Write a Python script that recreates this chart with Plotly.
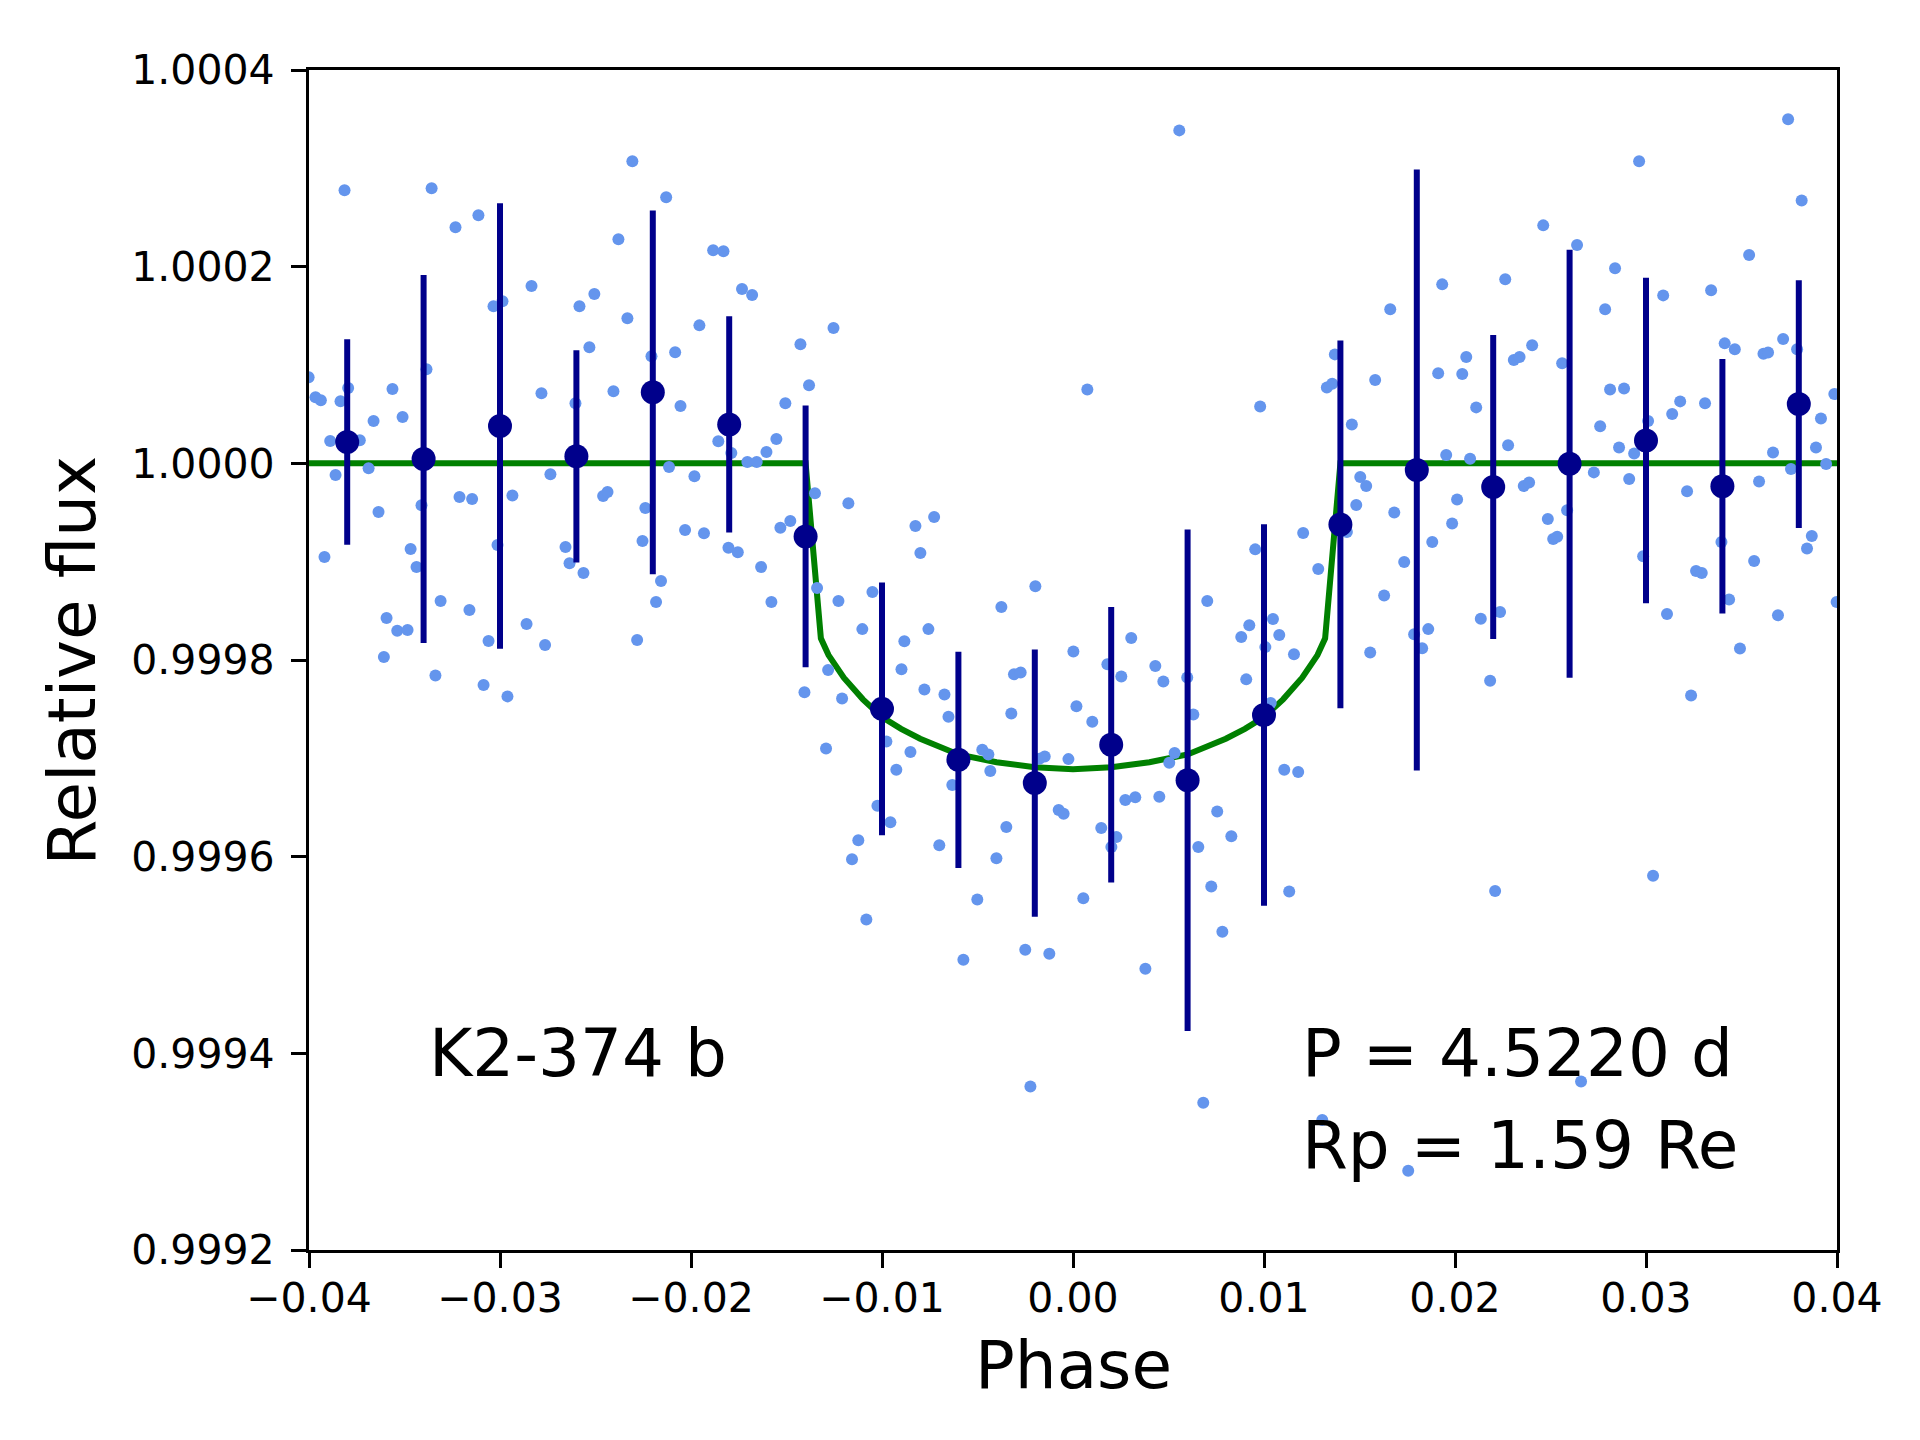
import plotly.graph_objects as go

# unbinned phase-folded photometry
phase = [
    -0.03814, -0.03358, -0.02307, -0.02130, -0.03233, -0.03113, -0.02380, -0.01884, -0.01830, -0.02835,
    -0.03034, -0.02987, -0.02584, -0.02506, -0.01733, -0.01680, -0.02333, -0.01956, -0.01427, -0.02532,
    -0.02207, -0.02083, -0.03385, -0.04002, -0.03966, -0.03938, -0.03795, -0.03835, -0.03563, -0.02783,
    -0.02406, -0.01382, -0.02605, -0.02055, -0.01506, -0.03662, -0.03510, -0.03889, -0.03734, -0.01553,
    -0.01857, -0.01789, -0.01605, -0.01705, -0.01656, -0.03861, -0.03688, -0.02736, -0.02115, -0.01982,
    -0.03212, -0.03146, -0.02935, -0.02460, -0.02437, -0.01351, -0.03411, -0.03636, -0.02239, -0.02031,
    -0.01932, -0.01532, -0.01480, -0.03919, -0.03468, -0.03437, -0.03013, -0.02657, -0.02636, -0.02563,
    -0.02254, -0.01804, -0.01755, -0.01633, -0.02157, -0.01340, -0.03311, -0.03160, -0.02183, -0.01579,
    -0.03594, -0.03538, -0.03484, -0.02861, -0.03060, -0.02764, -0.02282, -0.03608, -0.03338, -0.03086,
    -0.02961, -0.01406, -0.01282, -0.01293, 0.005565, -0.01254, 0.00075, 0.00980, 0.01371, 0.01329,
    0.01357, -0.01176, -0.00825, -0.00727, -0.00799, -0.01228, -0.01050, -0.00375, -0.00197, 0.00703,
    0.00954, 0.01205, 0.01284, -0.01103, -0.00883, -0.00757, -0.00898, -0.01209, -0.00778, -0.00673,
    -0.00652, -0.00323, -0.00309, -0.00274, 0.00002, 0.00180, 0.00253, 0.00305, 0.00431, 0.00473,
    0.00598, 0.00018, 0.00101, 0.00630, 0.00881, 0.00923, 0.01047, 0.01080, 0.01007, 0.01157,
    0.00907, 0.01035, -0.00977, -0.00851, -0.00925, -0.00475, -0.00443, -0.00433, -0.00632, -0.00176,
    -0.00148, -0.00024, 0.00532, 0.00504, 0.01106, 0.01179, -0.01024, -0.00956, -0.01124, -0.01157,
    -0.00700, -0.00401, -0.00349, -0.00075, -0.00049, 0.00274, 0.00326, 0.00452, 0.00148, 0.00227,
    0.00201, 0.00755, 0.00829, 0.00656, 0.00724, 0.01132, -0.00501, 0.00054, -0.01082, 0.00782,
    -0.00574, -0.00250, -0.00124, 0.00379, -0.00223, 0.00682, 0.01305, 0.03744, 0.02964, 0.03815,
    0.02462, 0.02639, 0.03540, 0.02838, 0.01933, 0.02263, 0.01661, 0.02786, 0.03090, 0.03341,
    0.02404, 0.02308, 0.02338, 0.02059, 0.02561, 0.03412, 0.03465, 0.03615, 0.03639, 0.03718,
    0.03791, 0.01582, 0.01912, 0.02038, 0.02812, 0.02885, 0.02111, 0.03179, 0.03309, 0.03137,
    0.03986, 0.01460, 0.02760, 0.03011, 0.03916, 0.02278, 0.01954, 0.02079, 0.02859, 0.02938,
    0.03665, 0.03890, 0.03943, 0.01504, 0.01535, 0.02727, 0.02912, 0.03592, 0.03759, 0.02360,
    0.02388, 0.03215, 0.01483, 0.01682, 0.02011, 0.02486, 0.02587, 0.01985, 0.01434, 0.01881,
    0.01734, 0.02514, 0.02535, 0.02985, 0.03395, 0.03868, 0.03843, 0.03566, 0.03262, 0.03292,
    0.01629, 0.02236, 0.02135, 0.03110, 0.03435, 0.03691, 0.03998, 0.01556, 0.01786, 0.01860,
    0.01828, 0.02184, 0.03492, 0.03236, 0.02210, 0.03037, 0.02660, 0.01755,
]
flux = [
    1.0002776, 1.0002797, 1.0003071, 1.0002705, 1.0002400, 1.0002522, 1.0002278, 1.0002166, 1.0002156, 1.0001803,
    1.0001597, 1.0001648, 1.0001597, 1.0001722, 1.0001773, 1.0001712, 1.0001475, 1.0001403, 1.0001210, 1.0001180,
    1.0001088, 1.0001129, 1.0000956, 1.0000875, 1.0000671, 1.0000641, 1.0000766, 1.0000631, 1.0000756, 1.0000712,
    1.0000732, 1.0000793, 1.0000610, 1.0000583, 1.0000610, 1.0000431, 1.0000471, 1.0000227, 1.0000234, 1.0000247,
    1.0000224, 1.0000105, 1.0000115, 1.0000014, 1.0000014, 0.9999881, 0.9999949, 0.9999888, 0.9999963, 0.9999868,
    0.9999658, 0.9999637, 0.9999674, 0.9999668, 0.9999708, 0.9999695, 0.9999573, 0.9999505, 0.9999546, 0.9999322,
    0.9999288, 0.9999346, 0.9999413, 0.9999047, 0.9999129, 0.9998946, 0.9999169, 0.9999149, 0.9998983, 0.9998885,
    0.9999210, 0.9999142, 0.9999095, 0.9998946, 0.9998803, 0.9998732, 0.9998600, 0.9998508, 0.9998590, 0.9998590,
    0.9998427, 0.9998298, 0.9998305, 0.9998366, 0.9998193, 0.9998152, 0.9998203, 0.9998031, 0.9997843, 0.9997745,
    0.9997630, 0.9997671, 0.9997898, 0.9997100, 1.0003386, 1.0001376, 1.0000752, 1.0000579, 1.0001108, 1.0000772,
    1.0000810, 0.9999593, 0.9999362, 0.9999454, 0.9999088, 0.9998599, 0.9998691, 0.9998538, 0.9998749, 0.9998599,
    0.9999125, 0.9999291, 0.9998925, 0.9998314, 0.9998190, 0.9998314, 0.9997905, 0.9997609, 0.9997700, 0.9997649,
    0.9997423, 0.9997456, 0.9997854, 0.9997872, 0.9998087, 0.9997956, 0.9997832, 0.9998223, 0.9997938, 0.9997781,
    0.9997821, 0.9997529, 0.9997372, 0.9997445, 0.9998234, 0.9998354, 0.9998416, 0.9998255, 0.9998131, 0.9998058,
    0.9997803, 0.9997562, 0.9997171, 0.9997065, 0.9996883, 0.9997087, 0.9997040, 0.9996872, 0.9996729, 0.9996996,
    0.9997018, 0.9996992, 0.9997054, 0.9996956, 0.9996883, 0.9996861, 0.9996518, 0.9996350, 0.9996167, 0.9995974,
    0.9996116, 0.9995985, 0.9996302, 0.9996474, 0.9996437, 0.9996576, 0.9996605, 0.9996609, 0.9996291, 0.9996200,
    0.9996098, 0.9996459, 0.9996207, 0.9996098, 0.9995696, 0.9995645, 0.9995565, 0.9995576, 0.9995360, 0.9995236,
    0.9994951, 0.9995054, 0.9995013, 0.9994860, 0.9993663, 0.9993498, 0.9993323, 1.0003498, 1.0003071, 1.0002674,
    1.0002420, 1.0002220, 1.0002118, 1.0001983, 1.0001820, 1.0001871, 1.0001566, 1.0001566, 1.0001708, 1.0001759,
    1.0001200, 1.0001050, 1.0001081, 1.0001081, 1.0001017, 1.0001220, 1.0001159, 1.0001115, 1.0001128, 1.0001264,
    1.0001159, 1.0000847, 1.0000915, 1.0000908, 1.0000752, 1.0000762, 1.0000569, 1.0000630, 1.0000610, 1.0000501,
    1.0000705, 1.0000396, 1.0000376, 1.0000430, 1.0000457, 1.0000183, 1.0000084, 1.0000047, 1.0000162, 1.0000101,
    1.0000111, 1.0000162, 0.9999993, 0.9999861, 0.9999769, 0.9999908, 0.9999840, 0.9999816, 0.9999942, 0.9999769,
    0.9999806, 0.9999715, 0.9999576, 0.9999501, 0.9999633, 0.9999433, 0.9999522, 0.9999389, 0.9999301, 0.9999200,
    0.9998996, 0.9999230, 0.9999254, 0.9999054, 0.9999200, 0.9999261, 0.9999135, 0.9999006, 0.9998905, 0.9998884,
    0.9998657, 0.9998488, 0.9998420, 0.9998467, 0.9998616, 0.9998454, 0.9998589, 0.9998077, 0.9998263, 0.9998314,
    0.9998120, 0.9997788, 0.9998117, 0.9997638, 0.9995652, 0.9995806, 0.9993714, 0.9992805,
]

# binned points
bin_phase = [-0.038, -0.034, -0.030, -0.026, -0.022, -0.018, -0.014, -0.010, -0.006, -0.002,
             0.002, 0.006, 0.010, 0.014, 0.018, 0.022, 0.026, 0.030, 0.034, 0.038]
bin_flux = [1.0000217, 1.0000044, 1.0000380, 1.0000071, 1.0000722, 1.0000396, 0.9999257, 0.9997503, 0.9996985, 0.9996748,
            0.9997138, 0.9996777, 0.9997441, 0.9999379, 0.9999932, 0.9999759, 0.9999996, 1.0000233, 0.9999766, 1.0000603]
bin_err = [0.0001045, 0.000187, 0.0002266, 0.000108, 0.000185, 0.000110, 0.000133, 0.0001285, 0.000110, 0.000136,
           0.000140, 0.000255, 0.000194, 0.000187, 0.0003056, 0.0001545, 0.0002176, 0.0001655, 0.0001294, 0.000126]

# transit model
model_phase = [-0.040, -0.0140, -0.0132, -0.0128, -0.0120, -0.0110, -0.0100, -0.0090, -0.0080, -0.0060,
               -0.0040, -0.0020, 0.0, 0.0020, 0.0040, 0.0060, 0.0080, 0.0090, 0.0100, 0.0110,
               0.0120, 0.0128, 0.0132, 0.0140, 0.040]
model_flux = [1.0, 1.0, 0.999822, 0.999805, 0.999782, 0.999760, 0.999742, 0.999730, 0.999720, 0.999704,
              0.999696, 0.999691, 0.999689, 0.999691, 0.999696, 0.999704, 0.999720, 0.999730, 0.999742, 0.999760,
              0.999782, 0.999805, 0.999822, 1.0, 1.0]

xticks = [-0.04, -0.03, -0.02, -0.01, 0.0, 0.01, 0.02, 0.03, 0.04]
xtick_text = ["\u22120.04", "\u22120.03", "\u22120.02", "\u22120.01", "0.00", "0.01", "0.02", "0.03", "0.04"]
yticks = [0.9992, 0.9994, 0.9996, 0.9998, 1.0000, 1.0002, 1.0004]
ytick_text = ["0.9992", "0.9994", "0.9996", "0.9998", "1.0000", "1.0002", "1.0004"]

font = "DejaVu Sans"

fig = go.Figure()
fig.add_trace(go.Scatter(x=model_phase, y=model_flux, mode='lines',
                         line=dict(color='green', width=6)))
fig.add_trace(go.Scatter(x=phase, y=flux, mode='markers',
                         marker=dict(color='cornflowerblue', size=12)))
fig.add_trace(go.Scatter(x=bin_phase, y=bin_flux, mode='markers',
                         marker=dict(color='darkblue', size=24),
                         error_y=dict(type='data', array=bin_err, color='darkblue', thickness=6, width=0)))

axis_style = dict(showline=True, linecolor='black', linewidth=3.3, mirror=True,
                  ticks='outside', ticklen=15, tickwidth=3.3, tickcolor='black',
                  showgrid=False, zeroline=False,
                  tickfont=dict(family=font, size=41, color='black'))

fig.update_layout(
    width=1920, height=1440,
    margin=dict(l=301, r=91, t=62, b=198),
    plot_bgcolor='white', paper_bgcolor='white',
    showlegend=False,
    xaxis=dict(range=[-0.04, 0.04], tickvals=xticks, ticktext=xtick_text,
               ticklabelstandoff=-5, **axis_style),
    yaxis=dict(range=[0.9992, 1.0004], tickvals=yticks, ticktext=ytick_text,
               ticklabelstandoff=8, **axis_style),
)

txt = dict(family=font, size=66, color='black')
fig.add_annotation(x=-0.03382, y=0.99940, text="K2-374 b", showarrow=False,
                   xanchor='left', yanchor='middle', font=txt)
fig.add_annotation(x=0.01188, y=0.99940, text="P = 4.5220 d", showarrow=False,
                   xanchor='left', yanchor='middle', font=txt)
fig.add_annotation(x=0.01188, y=0.999306, text="Rp = 1.59 Re", showarrow=False,
                   xanchor='left', yanchor='middle', font=txt)

# axis titles
fig.add_annotation(x=-0.1548, y=0.5, xref='paper', yref='paper', text="Relative flux",
                   textangle=-90, showarrow=False, xanchor='center', yanchor='middle', font=txt)
fig.add_annotation(x=0.5, y=-0.098, xref='paper', yref='paper', text="Phase",
                   showarrow=False, xanchor='center', yanchor='middle', font=txt)

fig.write_html("out.html")
